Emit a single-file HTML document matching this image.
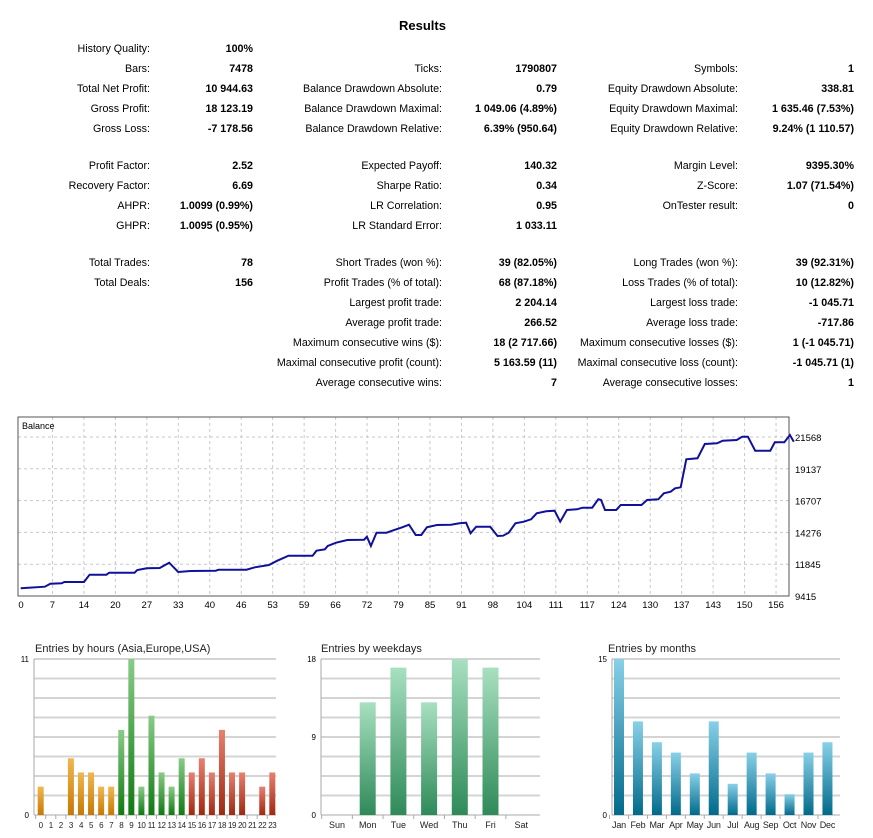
<!DOCTYPE html>
<html><head><meta charset="utf-8"><style>
body{margin:0;background:#fff;width:873px;height:838px;position:relative;overflow:hidden;font-family:"Liberation Sans",Arial,sans-serif;font-size:10.7px;color:#000}
.t{position:absolute;line-height:14px;white-space:nowrap}
.b{font-weight:bold}
svg{position:absolute;left:0;top:0}
</style></head><body>
<div class="t b" style="left:399px;top:19px;font-size:13px">Results</div>
<div id="tbl"></div>
<svg id="s" width="873" height="838" font-family="Liberation Sans, Arial, sans-serif"></svg>
<script>
var rows=[
[49,["History Quality:","100%"],null,null],
[69,["Bars:","7478"],["Ticks:","1790807"],["Symbols:","1"]],
[89,["Total Net Profit:","10 944.63"],["Balance Drawdown Absolute:","0.79"],["Equity Drawdown Absolute:","338.81"]],
[109,["Gross Profit:","18 123.19"],["Balance Drawdown Maximal:","1 049.06 (4.89%)"],["Equity Drawdown Maximal:","1 635.46 (7.53%)"]],
[129,["Gross Loss:","-7 178.56"],["Balance Drawdown Relative:","6.39% (950.64)"],["Equity Drawdown Relative:","9.24% (1 110.57)"]],
[166,["Profit Factor:","2.52"],["Expected Payoff:","140.32"],["Margin Level:","9395.30%"]],
[186,["Recovery Factor:","6.69"],["Sharpe Ratio:","0.34"],["Z-Score:","1.07 (71.54%)"]],
[206,["AHPR:","1.0099 (0.99%)"],["LR Correlation:","0.95"],["OnTester result:","0"]],
[226,["GHPR:","1.0095 (0.95%)"],["LR Standard Error:","1 033.11"],null],
[263,["Total Trades:","78"],["Short Trades (won %):","39 (82.05%)"],["Long Trades (won %):","39 (92.31%)"]],
[283,["Total Deals:","156"],["Profit Trades (% of total):","68 (87.18%)"],["Loss Trades (% of total):","10 (12.82%)"]],
[303,null,["Largest profit trade:","2 204.14"],["Largest loss trade:","-1 045.71"]],
[323,null,["Average profit trade:","266.52"],["Average loss trade:","-717.86"]],
[343,null,["Maximum consecutive wins ($):","18 (2 717.66)"],["Maximum consecutive losses ($):","1 (-1 045.71)"]],
[363,null,["Maximal consecutive profit (count):","5 163.59 (11)"],["Maximal consecutive loss (count):","-1 045.71 (1)"]],
[383,null,["Average consecutive wins:","7"],["Average consecutive losses:","1"]]];
var cols=[[150,253],[442,557],[738,854]],h="";
rows.forEach(function(r){for(var c=0;c<3;c++){var d=r[c+1];if(!d)continue;
h+='<div class="t" style="right:'+(873-cols[c][0])+'px;top:'+(r[0]-7)+'px">'+d[0]+'</div>';
h+='<div class="t b" style="right:'+(873-cols[c][1])+'px;top:'+(r[0]-7)+'px">'+d[1]+'</div>';}});
document.getElementById('tbl').innerHTML=h;
var s="";
s+='<defs>';
var gr={o:["#f0b850","#c87800"],g:["#88cc88","#107a10"],r:["#e88070","#a02810"],w:["#a8e0c0","#2e8a58"],m:["#88d0e8","#006a8a"]};
for(var k in gr)s+='<linearGradient id="g'+k+'" x1="0" y1="0" x2="0" y2="1"><stop offset="0" stop-color="'+gr[k][0]+'"/><stop offset="1" stop-color="'+gr[k][1]+'"/></linearGradient>';
s+='</defs>';
var L=18,R=789,T=417,B=596;
var ylab=[21568,19137,16707,14276,11845,9415];
for(var i=0;i<5;i++){var y=437+i*31.8;s+='<line x1="'+L+'" x2="'+R+'" y1="'+y+'" y2="'+y+'" stroke="#c8c8c8" stroke-dasharray="3,3"/>';}
for(i=0;i<6;i++){s+='<text x="795" y="'+(441+i*31.8)+'" font-size="9.5">'+ylab[i]+'</text>';}
var xl=[0,7,14,20,27,33,40,46,53,59,66,72,79,85,91,98,104,111,117,124,130,137,143,150,156];
for(i=0;i<25;i++){var x=21+i*31.46;if(i>0)s+='<line x1="'+x+'" x2="'+x+'" y1="'+T+'" y2="'+B+'" stroke="#c8c8c8" stroke-dasharray="3,3"/>';
s+='<text x="'+x+'" y="608" font-size="9.5" text-anchor="middle">'+xl[i]+'</text>';}
s+='<rect x="'+L+'" y="'+T+'" width="'+(R-L)+'" height="'+(B-T)+'" fill="none" stroke="#555"/>';
s+='<text x="22" y="429" font-size="9">Balance</text>';
var p=[37,535,80,530,90,521,110,520,115,516,150,516,160,494,190,494,195,488,240,488,245,480,262,475,285,474,302,458,318,486,340,483,385,482,390,479,440,479,455,472,480,465,495,452,515,437,558,437,565,422,580,418,585,408,600,398,620,390,650,389,655,380,662,408,672,368,690,368,700,362,718,352,730,344,742,375,752,375,762,352,780,345,805,344,820,340,832,338,840,370,850,350,875,350,888,378,898,377,908,368,920,340,935,335,948,328,958,310,975,304,990,302,1000,335,1012,300,1030,298,1040,293,1057,293,1068,268,1073,270,1080,300,1100,300,1108,285,1145,285,1155,270,1175,268,1185,250,1197,245,1205,235,1215,232,1225,148,1245,145,1258,102,1280,100,1290,92,1315,90,1325,80,1335,80,1348,122,1375,122,1383,97,1400,97,1410,75,1417,95];
var pts=[];for(i=0;i<p.length;i+=2)pts.push((p[i]/1.785).toFixed(1)+','+(p[i+1]/3+410).toFixed(1));
s+='<polyline points="'+pts.join(' ')+'" fill="none" stroke="#10109a" stroke-width="2"/>';
function bars(ax,ar,title,tx,top,mx,midlab,vals,labs,slot,first,bw,colf,lfs,lls){
 var T2=659,B2=815,ht=B2-T2;
 s+='<text x="'+tx+'" y="652" font-size="11" fill="#222">'+title+'</text>';
 for(var j=0;j<=8;j++){var y=T2+j*ht/8;s+='<line x1="'+ax+'" x2="'+ar+'" y1="'+y+'" y2="'+y+'" stroke="'+(j==0||j==8?'#aaa':'#d4d4d4')+'" stroke-width="'+(j==0||j==8?1:2)+'"/>';}
 s+='<line x1="'+ax+'" x2="'+ax+'" y1="'+T2+'" y2="'+B2+'" stroke="#aaa"/>';
 s+='<text x="'+(ax-5)+'" y="'+(T2+3)+'" font-size="8" text-anchor="end">'+mx+'</text>';
 if(midlab)s+='<text x="'+(ax-5)+'" y="'+(T2+ht/2+3)+'" font-size="8" text-anchor="end">'+midlab+'</text>';
 s+='<text x="'+(ax-5)+'" y="'+(B2+3)+'" font-size="8" text-anchor="end">0</text>';
 for(j=0;j<labs.length;j++){var cx=first+j*slot;
  s+='<line x1="'+(cx-slot/2)+'" x2="'+(cx-slot/2)+'" y1="'+B2+'" y2="'+(B2+4)+'" stroke="#aaa"/>';
  s+='<text x="'+cx+'" y="'+(B2+13)+'" font-size="'+lfs+'" letter-spacing="'+lls+'" text-anchor="middle" fill="#222">'+labs[j]+'</text>';
  if(vals[j]>0){var bh=vals[j]/mx*ht;s+='<rect x="'+(cx-bw/2)+'" y="'+(B2-bh)+'" width="'+bw+'" height="'+bh+'" fill="url(#g'+colf(j)+')"/>';}}
}
var hv=[2,0,0,4,3,3,2,2,6,11,2,7,3,2,4,3,4,3,6,3,3,0,2,3],hl=[];for(i=0;i<24;i++)hl.push(i);
bars(34,276,"Entries by hours (Asia,Europe,USA)",35,659,11,null,hv,hl,10.07,40.7,6,function(j){return j<8?'o':j<15?'g':'r';},8,-0.4);
bars(321,540,"Entries by weekdays",321,659,18,"9",[0,13,17,13,18,17,0],["Sun","Mon","Tue","Wed","Thu","Fri","Sat"],30.7,337,16,function(){return 'w';},9,0);
bars(612,840,"Entries by months",608,659,15,null,[15,9,7,6,4,9,3,6,4,2,6,7],["Jan","Feb","Mar","Apr","May","Jun","Jul","Aug","Sep","Oct","Nov","Dec"],18.95,619,10,function(){return 'm';},9,-0.2);
document.getElementById('s').innerHTML=s;
</script>
</body></html>
